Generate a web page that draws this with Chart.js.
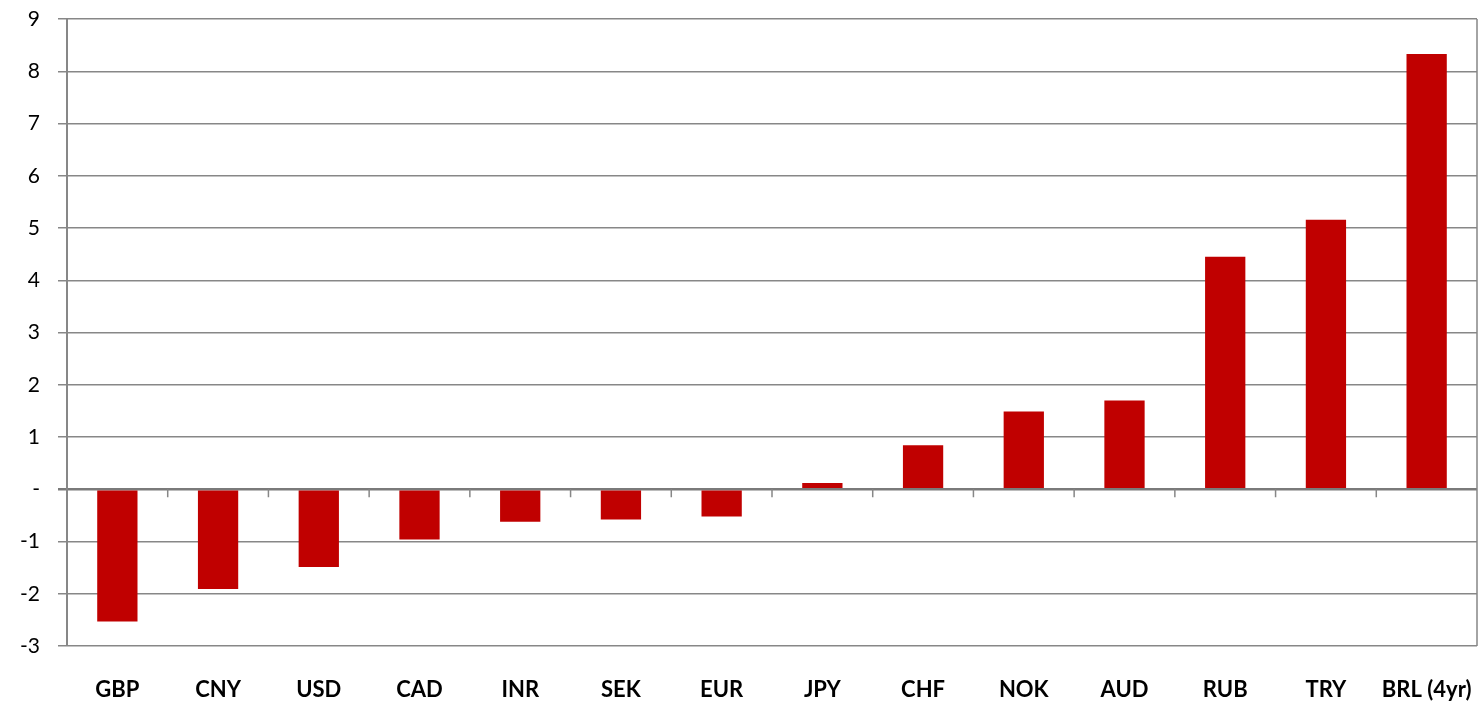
<!DOCTYPE html>
<html>
<head>
<meta charset="utf-8">
<script src="https://cdn.jsdelivr.net/npm/chart.js@4.4.1/dist/chart.umd.min.js"></script>
<style>
  html, body { margin: 0; padding: 0; background: #fff; overflow: hidden; }
  canvas { display: block; }
</style>
</head>
<body>
<canvas id="chart" width="1483" height="704"></canvas>
<script>
// currencies and values
const currencies = ['GBP', 'CNY', 'USD', 'CAD', 'INR', 'SEK', 'EUR', 'JPY', 'CHF', 'NOK', 'AUD', 'RUB', 'TRY', 'BRL (4yr)'];
const values = [-2.53, -1.91, -1.49, -0.96, -0.62, -0.58, -0.52, 0.12, 0.84, 1.49, 1.70, 4.45, 5.16, 8.33];
const yMin = -3;
const yMax = 9;

const gridColor = '#878787';

// little tick marks under the zero line + right frame line
const zeroTicks = {
    id: 'zeroTicks',
    afterDatasetsDraw(chart) {
        const { ctx, chartArea, scales } = chart;
        const y0 = scales.y.getPixelForValue(0);
        const x = scales.x;
        ctx.save();
        ctx.strokeStyle = gridColor;
        ctx.lineWidth = 1.5;
        ctx.beginPath();
        for (let i = 1; i < currencies.length; i++) {
            const px = (x.getPixelForValue(i - 1) + x.getPixelForValue(i)) / 2;
            ctx.moveTo(px, y0);
            ctx.lineTo(px, y0 + 8);
        }
        ctx.moveTo(chartArea.right, chartArea.top);
        ctx.lineTo(chartArea.right, chartArea.bottom);
        ctx.stroke();
        ctx.restore();
    }
};

const ctx = document.getElementById('chart').getContext('2d');
new Chart(ctx, {
    type: 'bar',
    data: {
        labels: currencies,
        datasets: [{
            data: values,
            backgroundColor: '#C00000',
            borderWidth: 0,
            barPercentage: 0.4,
            categoryPercentage: 1.0
        }]
    },
    options: {
        responsive: false,
        animation: false,
        layout: { padding: { left: 0, right: 6, top: 19, bottom: 0 } },
        plugins: {
            legend: { display: false },
            tooltip: { enabled: false }
        },
        scales: {
            x: {
                grid: { display: false },
                border: { display: false },
                afterFit: s => { s.height = 58; s.paddingLeft = 0; s.paddingRight = 0; },
                ticks: {
                    color: '#000',
                    padding: 23,
                    maxRotation: 0,
                    autoSkip: false,
                    font: { family: 'Lato', size: 22, weight: 'bold' }
                }
            },
            y: {
                min: yMin,
                max: yMax,
                afterFit: s => { s.width = 67; s.paddingTop = 0; s.paddingBottom = 0; },
                grid: {
                    color: ctx => ctx.tick && ctx.tick.value === 0 ? '#7a7a7a' : gridColor,
                    lineWidth: ctx => ctx.tick && ctx.tick.value === 0 ? 2.5 : 1.5,
                    tickLength: 9
                },
                border: { display: true, color: gridColor, width: 2 },
                ticks: {
                    stepSize: 1,
                    color: '#000',
                    padding: 18,
                    font: { family: 'Lato', size: 21 },
                    callback: v => v === 0 ? '-' : v
                }
            }
        }
    },
    plugins: [zeroTicks]
});
</script>
</body>
</html>
